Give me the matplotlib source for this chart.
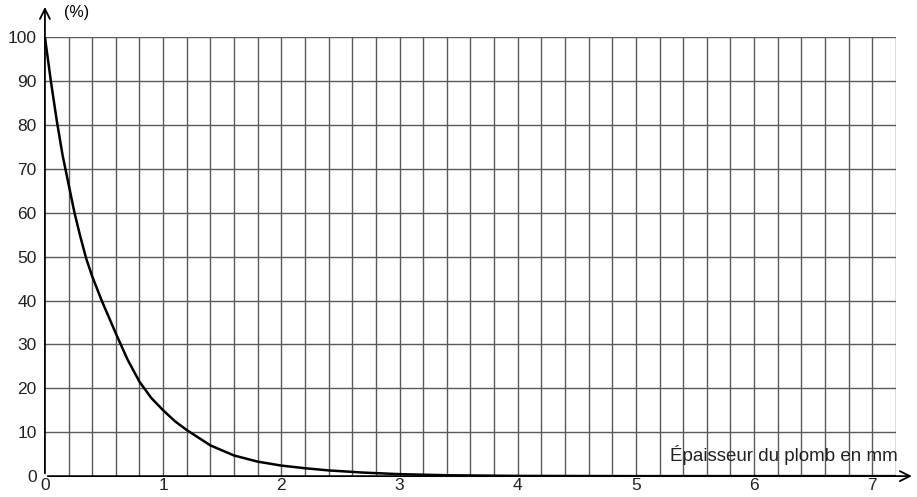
import matplotlib.pyplot as plt
import numpy as np

# Epaisseur du plomb (mm) and percentage transmitted
thickness = [0.0, 0.05, 0.1, 0.15, 0.2, 0.25, 0.3, 0.35, 0.4, 0.48, 0.6, 0.7,
             0.8, 0.9, 1.0, 1.1, 1.2, 1.4, 1.6, 1.8, 2.0, 2.2, 2.4, 2.7,
             3.0, 3.4, 4.0, 5.0, 6.0, 7.2]
percent = [100, 90, 81, 73, 66.5, 60, 54.5, 49.5, 45.5, 40, 32.5, 26.5,
           21.5, 17.8, 15, 12.5, 10.5, 7, 4.7, 3.3, 2.4, 1.8, 1.3, 0.8,
           0.45, 0.2, 0.05, 0, 0, 0]

x_ticks = [0, 1, 2, 3, 4, 5, 6, 7]
y_ticks = [0, 10, 20, 30, 40, 50, 60, 70, 80, 90, 100]

plt.rcParams['font.family'] = ['Liberation Sans', 'DejaVu Sans']

fig = plt.figure(figsize=(9.17, 4.97), dpi=100)
ax = fig.add_axes([0.049, 0.042, 0.928, 0.8833])

# grid every 0.2 mm and every 10 %
for gx in np.arange(0.2, 7.21, 0.2):
    ax.axvline(gx, color='#5a5a5a', linewidth=1.0, zorder=1)
for gy in y_ticks[1:]:
    ax.axhline(gy, color='#5a5a5a', linewidth=1.0, zorder=1)

ax.plot(thickness, percent, color='black', linewidth=1.8, zorder=3)

ax.set_xlim(0, 7.2)
ax.set_ylim(0, 100)

for s in ['top', 'right', 'left', 'bottom']:
    ax.spines[s].set_visible(False)

# axes with arrows
ax.annotate('', xy=(1.022, 0), xytext=(0, 0), xycoords='axes fraction',
            arrowprops=dict(arrowstyle='->', color='black', lw=1.3, mutation_scale=18),
            annotation_clip=False)
ax.annotate('', xy=(0, 1.075), xytext=(0, 0), xycoords='axes fraction',
            arrowprops=dict(arrowstyle='->', color='black', lw=1.3, mutation_scale=18),
            annotation_clip=False)

ax.set_xticks(x_ticks)
ax.set_yticks(y_ticks)
ax.tick_params(length=0, labelsize=12.5, colors='#222222')
ax.tick_params(axis='x', pad=1.5)
ax.tick_params(axis='y', pad=6)

ax.text(0.022, 1.04, '(%)', transform=ax.transAxes, fontsize=11.5, ha='left', va='bottom')
ax.text(1.002, 0.025, 'Épaisseur du plomb en mm', transform=ax.transAxes,
        fontsize=13.5, ha='right', va='bottom', color='#222222', zorder=4)

plt.savefig('out.png', dpi=100)
